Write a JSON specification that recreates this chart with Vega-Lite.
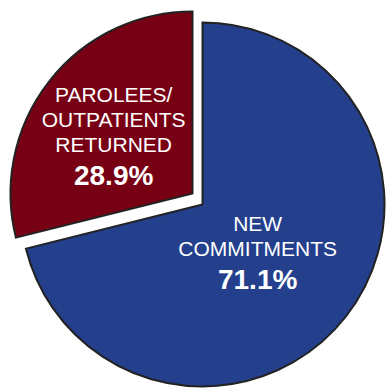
{
  "$schema": "https://vega.github.io/schema/vega-lite/v6.json",
  "width": 386,
  "height": 389,
  "autosize": {"type": "fit", "contains": "padding"},
  "padding": {"left": 16, "top": 17, "right": 0, "bottom": 0},
  "background": "white",
  "config": {"view": {"stroke": null}, "text": {"font": "Liberation Sans"}},
  "data": {
    "values": [
      {"category": "NEW\nCOMMITMENTS", "value": 71.1, "group": "new"},
      {"category": "PAROLEES/\nOUTPATIENTS\nRETURNED", "value": 28.9, "group": "returned"}
    ]
  },
  "transform": [
    {"stack": "value", "groupby": [], "sort": [{"field": "value", "order": "descending"}], "as": ["v0", "v1"]},
    {"calculate": "(datum.v0 + datum.v1) / 2", "as": "mid"},
    {"calculate": "format(datum.value, '.1f') + '%'", "as": "pct"}
  ],
  "layer": [
    {
      "transform": [{"filter": "datum.group == 'new'"}],
      "mark": {"type": "arc", "radius": 182, "fill": "#243F8C", "stroke": "#222222", "strokeWidth": 2, "strokeJoin": "miter"},
      "encoding": {
        "theta": {"field": "v0", "type": "quantitative", "scale": {"domain": [0, 100]}},
        "theta2": {"field": "v1"}
      }
    },
    {
      "transform": [{"filter": "datum.group == 'returned'"}],
      "mark": {"type": "arc", "radius": 182, "fill": "#780014", "stroke": "#222222", "strokeWidth": 2, "strokeJoin": "miter", "xOffset": -10, "yOffset": -11},
      "encoding": {
        "theta": {"field": "v0", "type": "quantitative", "scale": {"domain": [0, 100]}},
        "theta2": {"field": "v1"}
      }
    },
    {
      "transform": [{"filter": "datum.group == 'new'"}],
      "mark": {"type": "text", "radius": 70, "fill": "white", "fontSize": 21, "lineBreak": "\n", "lineHeight": 25.5, "baseline": "middle", "align": "center", "dy": -23},
      "encoding": {
        "theta": {"field": "mid", "type": "quantitative"},
        "text": {"field": "category"}
      }
    },
    {
      "transform": [{"filter": "datum.group == 'new'"}],
      "mark": {"type": "text", "radius": 70, "fill": "white", "fontSize": 28, "fontWeight": "bold", "baseline": "middle", "align": "center", "dy": 33},
      "encoding": {
        "theta": {"field": "mid", "type": "quantitative"},
        "text": {"field": "pct"}
      }
    },
    {
      "transform": [{"filter": "datum.group == 'returned'"}],
      "mark": {"type": "text", "radius": 100, "fill": "white", "fontSize": 21, "lineBreak": "\n", "lineHeight": 25, "baseline": "middle", "align": "center", "xOffset": -10, "yOffset": -11, "dy": -36},
      "encoding": {
        "theta": {"field": "mid", "type": "quantitative"},
        "text": {"field": "category"}
      }
    },
    {
      "transform": [{"filter": "datum.group == 'returned'"}],
      "mark": {"type": "text", "radius": 100, "fill": "white", "fontSize": 28, "fontWeight": "bold", "baseline": "middle", "align": "center", "xOffset": -10, "yOffset": -11, "dy": 45},
      "encoding": {
        "theta": {"field": "mid", "type": "quantitative"},
        "text": {"field": "pct"}
      }
    }
  ]
}
